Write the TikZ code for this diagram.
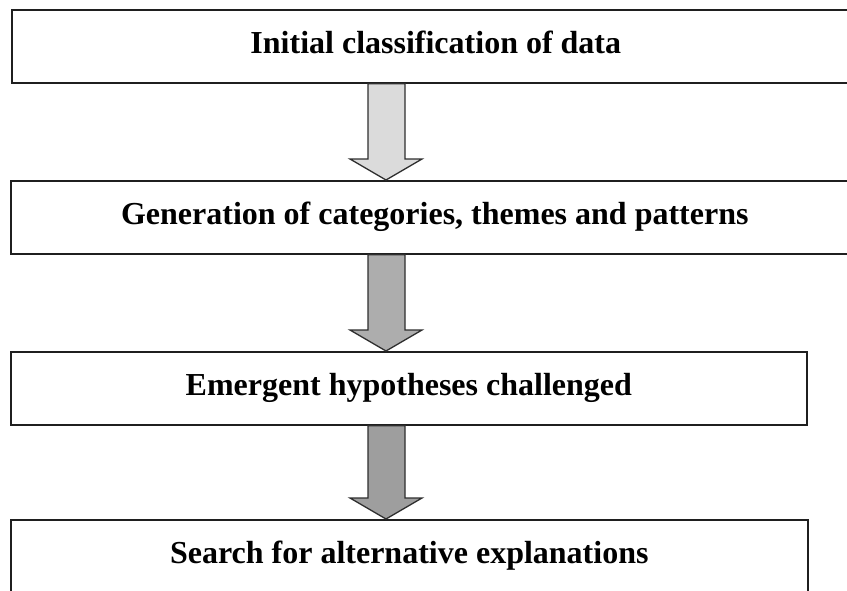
\documentclass[tikz,border=0pt]{standalone}
\usepackage{fontspec}
\setmainfont{Liberation Serif}
\usetikzlibrary{calc}

\tikzset{
  stage/.style={draw=black!88, line width=1.6pt, fill=white, rectangle,
    anchor=north west, inner sep=0pt, minimum height=73pt,
    font=\bfseries\fontsize{32}{36}\selectfont,
    text height=21pt, text depth=7pt, align=center},
  flow/.style={draw=black!82, line width=1.3pt, line join=miter},
}

% block arrow from the bottom of one stage to the top of the next
\newcommand\flowarrow[3]{%
  \draw[flow, fill=#3] let \p1=(#1.south), \p2=(#2.north) in
    (368pt,\y1) -- (405pt,\y1) -- (405pt,\y2+21pt) -- (422pt,\y2+21pt)
    -- (386pt,\y2) -- (350pt,\y2+21pt) -- (368pt,\y2+21pt) -- cycle;}

\begin{document}
\begin{tikzpicture}[x=1pt, y=-1pt]
  \useasboundingbox (0,0) rectangle (847,590);
  \clip (0,0) rectangle (847,590);

  \node[stage, minimum width=848pt] (s1) at (11,9)   {Initial classification of data};
  \node[stage, minimum width=848pt] (s2) at (10,180) {Generation of categories, themes and patterns};
  \node[stage, minimum width=796pt] (s3) at (10,351) {Emergent hypotheses challenged};
  \node[stage, minimum width=797pt] (s4) at (10,519) {Search for alternative explanations};

  \flowarrow{s1}{s2}{black!14}
  \flowarrow{s2}{s3}{black!32}
  \flowarrow{s3}{s4}{black!38}
\end{tikzpicture}
\end{document}
